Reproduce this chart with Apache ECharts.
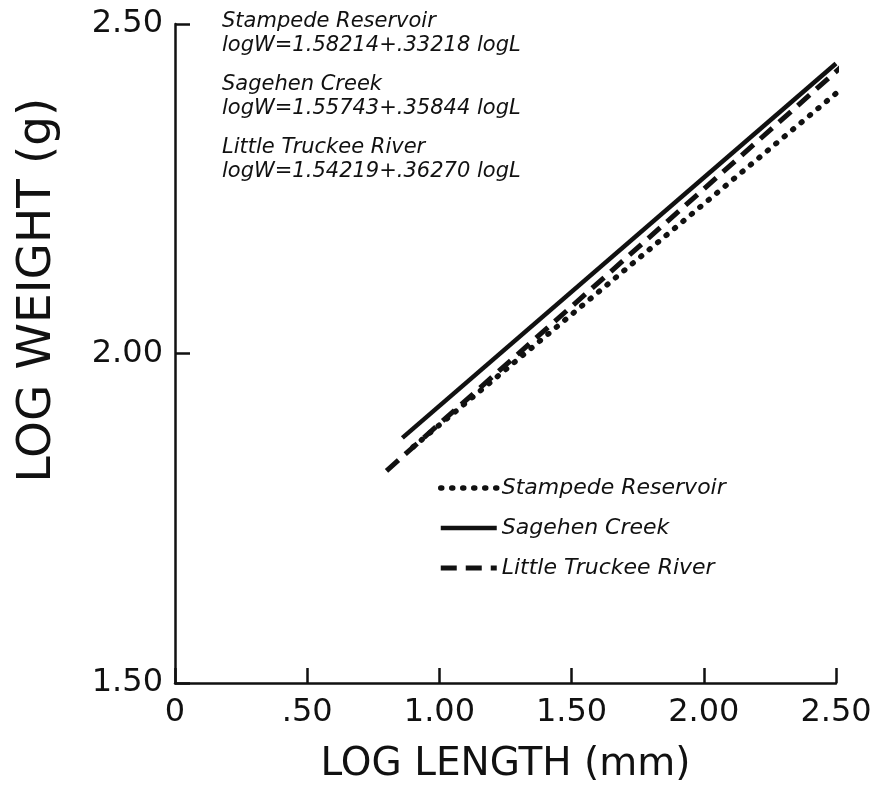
<!DOCTYPE html>
<html>
<head>
<meta charset="utf-8">
<script src="https://cdn.jsdelivr.net/npm/echarts@6/dist/echarts.min.js"></script>
<style>
html,body{margin:0;padding:0;background:#fff;}
#chart{width:887px;height:794px;}
</style>
</head>
<body>
<div id="chart"></div>
<script>
// Series names
const seriesNames = ['Stampede Reservoir', 'Sagehen Creek', 'Little Truckee River'];
// Fitted regression lines: [log length, log weight] endpoints
const stampedeLen = [0.90, 2.51];
const stampedeW   = [1.858, 2.398];
const sagehenLen  = [0.86, 2.50];
const sagehenW    = [1.872, 2.440];
const truckeeLen  = [0.80, 2.52];
const truckeeW    = [1.822, 2.435];
// Equation text
const equations = [
  'logW=1.58214+.33218 logL',
  'logW=1.55743+.35844 logL',
  'logW=1.54219+.36270 logL'
];
// Axis ticks
const xTickMin = 0, xTickMax = 2.5, xTickStep = 0.5;
const yTickMin = 1.5, yTickMax = 2.5, yTickStep = 0.5;

function pairs(xs, ys){ return xs.map((x,i)=>[x, ys[i]]); }
function fmt(v){
  const s = v.toFixed(2);
  if (v === 0) return '0';
  return s.startsWith('0') ? s.slice(1) : s;
}

const FONT = 'DejaVu Sans';
const INK = '#111';
const styles = [
  {color:INK, width:5.5, type:[1,10], cap:'round'},
  {color:INK, width:4.5, type:'solid'},
  {color:INK, width:5, type:[16,9]}
];
const chart = echarts.init(document.getElementById('chart'));

const annTop = [11, 74, 137];
const graphics = [];
seriesNames.forEach((n, i) => {
  graphics.push({type:'text', left:222, top:annTop[i],
    style:{text:n, fill:INK, font:'italic 21px "' + FONT + '"'}});
  graphics.push({type:'text', left:222, top:annTop[i] + 24,
    style:{text:equations[i], fill:INK, font:'italic 21px "' + FONT + '"'}});
});
graphics.push({type:'text', x:38, y:290, rotation:Math.PI/2,
  style:{text:'LOG WEIGHT (g)', fill:INK, font:'47px "' + FONT + '"', align:'center', verticalAlign:'middle'}});

const option = {
  backgroundColor:'#fff',
  animation:false,
  color:[INK, INK, INK],
  grid:{left:175, right:51, top:24, bottom:111, containLabel:false},
  xAxis:{
    type:'value', min:xTickMin, max:xTickMax, interval:xTickStep,
    name:'LOG LENGTH (mm)', nameLocation:'middle', nameGap:62,
    nameTextStyle:{fontFamily:FONT, fontSize:39, color:INK},
    axisLine:{show:true, lineStyle:{color:INK, width:2.5}},
    axisTick:{show:true, inside:true, length:15, lineStyle:{color:INK, width:2.5}},
    axisLabel:{fontFamily:FONT, fontSize:32, color:INK, margin:14, formatter:fmt},
    splitLine:{show:false}
  },
  yAxis:{
    type:'value', min:yTickMin, max:yTickMax, interval:yTickStep,
    axisLine:{show:true, lineStyle:{color:INK, width:2.5}},
    axisTick:{show:true, inside:true, length:15, lineStyle:{color:INK, width:2.5}},
    axisLabel:{fontFamily:FONT, fontSize:32, color:INK, margin:12, formatter:v=>v.toFixed(2)},
    splitLine:{show:false}
  },
  legend:{
    orient:'vertical', left:433, top:472, itemWidth:56, itemHeight:14, itemGap:18,
    itemStyle:{opacity:0},
    textStyle:{fontFamily:FONT, fontStyle:'italic', fontSize:22, color:INK},
    data:seriesNames.map((n,i)=>({name:n, lineStyle:Object.assign({}, styles[i]), itemStyle:{opacity:0}}))
  },
  graphic:graphics,
  series:seriesNames.map((n,i)=>({
    name:n, type:'line', symbol:'none', clip:false,
    data:[pairs(stampedeLen, stampedeW), pairs(sagehenLen, sagehenW), pairs(truckeeLen, truckeeW)][i],
    itemStyle:{color:INK},
    lineStyle:styles[i]
  }))
};
chart.setOption(option);
</script>
</body>
</html>
